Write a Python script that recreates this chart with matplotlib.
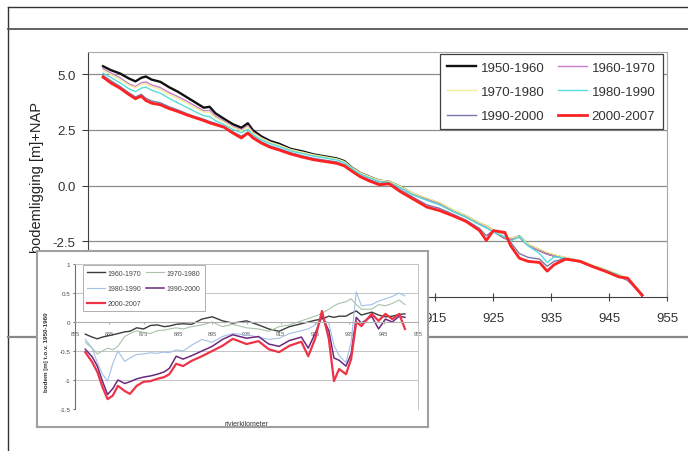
import numpy as np
import matplotlib
matplotlib.use("Agg")
import matplotlib.pyplot as plt

plt.rcParams['font.family'] = ['Liberation Sans', 'DejaVu Sans']

# Bodemligging [m +NAP] per periode langs de rivier
km = [857.6, 859, 860.5, 862, 863.2, 864.2, 865, 866, 867.5, 869, 870.5, 872, 873.5,
      875, 876, 877, 878.5, 880, 881.5, 882.6, 883.5, 885, 886.5, 888, 890, 892, 894,
      896, 898, 899.3, 900.5, 902, 903.5, 905.3, 907, 909, 911, 913.5, 915.7, 918,
      920.3, 922.6, 923.8, 925, 927, 928, 929.5, 931, 933, 934.3, 935.5, 937.5, 940,
      942, 944.5, 946.7, 948.2, 949.7, 950.7]

b_1950 = [5.36, 5.18, 5.04, 4.82, 4.68, 4.84, 4.90, 4.76, 4.66, 4.42, 4.22, 3.98, 3.74,
          3.50, 3.54, 3.25, 3.00, 2.76, 2.60, 2.80, 2.48, 2.20, 2.00, 1.88, 1.65, 1.54, 1.40,
          1.31, 1.22, 1.10, 0.82, 0.57, 0.41, 0.22, 0.18, -0.06, -0.36, -0.60, -0.80, -1.12,
          -1.38, -1.70, -1.83, -2.03, -2.35, -2.40, -2.28, -2.66, -2.90, -3.05, -3.14, -3.26, -3.40,
          -3.60, -3.84, -4.06, -4.22, -4.60, -4.92]
b_1960 = [5.25, 5.05, 4.85, 4.58, 4.45, 4.62, 4.66, 4.52, 4.40, 4.18, 4.00, 3.80, 3.58,
          3.36, 3.38, 3.12, 2.90, 2.66, 2.50, 2.70, 2.40, 2.14, 1.95, 1.83, 1.61, 1.50, 1.36,
          1.27, 1.18, 1.06, 0.80, 0.55, 0.38, 0.20, 0.16, -0.08, -0.38, -0.62, -0.82, -1.14,
          -1.40, -1.72, -1.85, -2.05, -2.36, -2.42, -2.30, -2.68, -2.92, -3.07, -3.16, -3.28, -3.42,
          -3.62, -3.86, -4.08, -4.24, -4.62, -4.93]
b_1970 = [5.18, 4.98, 4.78, 4.52, 4.40, 4.55, 4.58, 4.45, 4.32, 4.10, 3.92, 3.72, 3.50,
          3.30, 3.30, 3.06, 2.85, 2.62, 2.46, 2.64, 2.36, 2.12, 1.94, 1.82, 1.62, 1.50, 1.38,
          1.29, 1.20, 1.08, 0.82, 0.58, 0.42, 0.24, 0.20, -0.04, -0.33, -0.56, -0.76, -1.08,
          -1.34, -1.66, -1.80, -2.00, -2.30, -2.36, -2.26, -2.62, -2.86, -3.00, -3.10, -3.22, -3.36,
          -3.55, -3.76, -3.98, -4.16, -4.55, -4.90]
b_1980 = [5.05, 4.85, 4.62, 4.36, 4.22, 4.38, 4.42, 4.28, 4.15, 3.92, 3.72, 3.52, 3.32,
          3.14, 3.10, 2.92, 2.74, 2.52, 2.38, 2.52, 2.28, 2.05, 1.88, 1.76, 1.56, 1.44, 1.32,
          1.24, 1.15, 1.03, 0.78, 0.52, 0.36, 0.18, 0.14, -0.10, -0.40, -0.66, -0.86, -1.16,
          -1.42, -1.75, -1.90, -2.08, -2.30, -2.50, -2.28, -2.70, -3.05, -3.45, -3.20, -3.26, -3.38,
          -3.58, -3.80, -4.02, -4.20, -4.58, -4.92]
b_1990 = [4.95, 4.70, 4.46, 4.18, 3.98, 4.10, 3.92, 3.80, 3.72, 3.54, 3.40, 3.24, 3.10,
          2.98, 2.88, 2.80, 2.66, 2.42, 2.22, 2.40, 2.20, 1.96, 1.78, 1.66, 1.48, 1.34, 1.22,
          1.14, 1.06, 0.94, 0.70, 0.45, 0.28, 0.10, 0.12, -0.20, -0.50, -0.86, -1.02, -1.28,
          -1.55, -1.92, -2.25, -2.02, -2.15, -2.55, -3.05, -3.22, -3.30, -3.62, -3.40, -3.28, -3.40,
          -3.60, -3.85, -4.08, -4.16, -4.60, -4.92]
b_2000 = [4.87, 4.60, 4.38, 4.10, 3.90, 4.02, 3.82, 3.70, 3.63, 3.46, 3.33, 3.18, 3.05,
          2.92, 2.82, 2.74, 2.62, 2.36, 2.14, 2.36, 2.14, 1.90, 1.72, 1.60, 1.42, 1.28, 1.16,
          1.08, 1.00, 0.88, 0.66, 0.40, 0.22, 0.04, 0.08, -0.28, -0.58, -0.96, -1.12, -1.35,
          -1.61, -2.01, -2.46, -2.02, -2.10, -2.70, -3.26, -3.40, -3.45, -3.84, -3.55, -3.30, -3.40,
          -3.62, -3.86, -4.10, -4.15, -4.62, -4.92]

periodes = ['1950-1960', '1960-1970', '1970-1980', '1980-1990', '1990-2000', '2000-2007']
kleuren = ['#111111', '#cc7acc', '#eeee99', '#55dddd', '#7676aa', '#ff2222']
dikte = [1.7, 1.0, 1.0, 1.0, 1.0, 2.0]

# Inzet: verschil met 1950-1960 [m]
km_v = [858, 860, 861.5, 863, 864.5, 866, 867.5, 869.5, 871, 873, 875, 877, 879, 881,
        882.5, 884.5, 886.5, 889, 892, 895, 898, 901, 905, 908.5, 911.5, 914.5, 917.5,
        921, 923, 925, 927, 929, 930.5, 932, 934, 935.5, 937, 938.5, 941.5, 943.5, 945.5,
        947.5, 949.5, 951.2]

v_1960 = [-0.21, -0.26, -0.29, -0.26, -0.24, -0.22, -0.20, -0.17, -0.16, -0.10, -0.12, -0.06,
          -0.05, -0.08, -0.07, -0.04, -0.03, -0.04, 0.05, 0.09, 0.02, -0.02, 0.02, -0.05, -0.12,
          -0.16, -0.08, -0.03, 0.00, 0.03, 0.05, 0.10, 0.08, 0.10, 0.10, 0.15, 0.19, 0.12, 0.17,
          0.12, 0.09, 0.10, 0.13, 0.14]
v_1970 = [-0.35, -0.45, -0.55, -0.50, -0.45, -0.48, -0.42, -0.25, -0.20, -0.15, -0.18, -0.20,
          -0.15, -0.14, -0.12, -0.10, -0.12, -0.08, -0.05, 0.00, -0.08, -0.04, -0.10, -0.12, -0.16,
          -0.08, -0.05, 0.02, 0.06, 0.10, 0.15, 0.22, 0.28, 0.32, 0.35, 0.40, 0.30, 0.22, 0.22,
          0.30, 0.28, 0.32, 0.38, 0.30]
v_1980 = [-0.30, -0.45, -0.70, -0.90, -1.02, -0.72, -0.50, -0.68, -0.62, -0.56, -0.55, -0.53,
          -0.54, -0.52, -0.53, -0.48, -0.50, -0.40, -0.30, -0.35, -0.25, -0.20, -0.22, -0.26, -0.30,
          -0.28, -0.20, -0.15, -0.12, -0.05, 0.05, -0.02, -0.40, -0.58, -0.70, -0.35, 0.52, 0.28,
          0.30, 0.36, 0.40, 0.44, 0.50, 0.45]
v_1990 = [-0.47, -0.60, -0.76, -1.02, -1.25, -1.15, -1.00, -1.06, -1.03, -0.98, -0.95, -0.93,
          -0.90, -0.86, -0.80, -0.59, -0.64, -0.58, -0.50, -0.42, -0.30, -0.22, -0.28, -0.25, -0.38,
          -0.42, -0.32, -0.26, -0.45, -0.20, 0.10, -0.15, -0.62, -0.66, -0.76, -0.55, 0.08, -0.02,
          0.10, -0.12, 0.05, 0.00, 0.10, 0.08]
v_2000 = [-0.52, -0.69, -0.86, -1.12, -1.33, -1.27, -1.10, -1.19, -1.24, -1.10, -1.03, -1.02,
          -0.98, -0.95, -0.90, -0.72, -0.76, -0.67, -0.59, -0.50, -0.41, -0.29, -0.38, -0.33, -0.47,
          -0.52, -0.41, -0.34, -0.59, -0.29, 0.19, -0.29, -1.02, -0.81, -0.90, -0.64, 0.00, -0.07,
          0.14, 0.02, 0.14, 0.05, 0.14, -0.12]

periodes_v = ['1960-1970', '1970-1980', '1980-1990', '1990-2000', '2000-2007']
kleuren_v = ['#3c3c3c', '#a9c2a9', '#a4bfe6', '#6a2a7e', '#ee3348']
dikte_v = [1.0, 0.8, 0.8, 1.1, 1.6]

x_ticks = list(range(855, 956, 10))
y_ticks = [-2.5, 0.0, 2.5, 5.0]
y_ticks_v = [-1.5, -1, -0.5, 0, 0.5, 1]
y_labels_v = ['-1.5', '-1', '-0.5', '0', '0.5', '1']

W, H = 688, 452


def vak(x0, y0, x1, y1):
    # pixelrechthoek -> figuurcoordinaten
    return [x0 / W, 1 - y1 / H, (x1 - x0) / W, (y1 - y0) / H]


fig = plt.figure(figsize=(W / 100, H / 100), dpi=100)

# kader van de pagina
bg = fig.add_axes([0, 0, 1, 1], zorder=0)
bg.set_xlim(0, W)
bg.set_ylim(H, 0)
bg.axis('off')
bg.plot([8, W], [8, 8], color='#333333', lw=1.0)
bg.plot([8, 8], [8, H], color='#333333', lw=1.0)
bg.plot([8, W], [30, 30], color='#555555', lw=1.3)
bg.plot([8, W], [338, 338], color='#888888', lw=1.6)

# hoofdfiguur
ax = fig.add_axes(vak(88, 53, 667, 298), zorder=1)
series = [b_1950, b_1960, b_1970, b_1980, b_1990, b_2000]
lijnen = []
for naam, y, c, lw in zip(periodes, series, kleuren, dikte):
    l, = ax.plot(km, y, color=c, lw=lw, label=naam)
    lijnen.append(l)
ax.set_xlim(855, 955)
ax.set_ylim(-5, 6)
ax.set_xticks(x_ticks)
ax.set_yticks(y_ticks)
ax.set_yticklabels(['%.1f' % v for v in y_ticks])
ax.yaxis.grid(True, color='#8c8c8c', lw=0.9)
ax.set_axisbelow(True)
for s in ['left', 'bottom']:
    ax.spines[s].set_color('#404040')
for s in ['top', 'right']:
    ax.spines[s].set_color('#a8a8a8')
    ax.spines[s].set_linewidth(0.8)
ax.tick_params(axis='x', direction='inout', length=6, pad=8, labelsize=9.5, colors='#404040',
               labelcolor='#333333')
ax.tick_params(axis='y', direction='out', length=4, pad=5, labelsize=9.5, colors='#404040',
               labelcolor='#333333')
ax.set_ylabel('bodemligging [m]+NAP', fontsize=10.5, color='#222222')
ax.yaxis.set_label_coords(-0.076, 0.49)

volgorde = [0, 2, 4, 1, 3, 5]
leg = ax.legend([lijnen[i] for i in volgorde], [periodes[i] for i in volgorde],
                loc='upper left', bbox_to_anchor=(0.608, 0.99), borderaxespad=0,
                ncol=2, fontsize=9.5, handlelength=2.2, handletextpad=0.35,
                columnspacing=1.0, labelspacing=0.9, borderpad=0.55,
                fancybox=False, framealpha=1)
leg.get_frame().set_edgecolor('#404040')
leg.get_frame().set_linewidth(0.9)
for t in leg.get_texts():
    t.set_color('#333333')

# inzet met verschillen
kader = fig.add_axes(vak(37, 252, 428, 428), zorder=2)
kader.set_xticks([])
kader.set_yticks([])
kader.set_facecolor('white')
for s in kader.spines.values():
    s.set_color('#a0a0a0')
    s.set_linewidth(1.5)

ai = fig.add_axes(vak(75, 265, 418, 410), zorder=3)
series_v = [v_1960, v_1970, v_1980, v_1990, v_2000]
lijnen_v = []
for naam, y, c, lw in zip(periodes_v, series_v, kleuren_v, dikte_v):
    l, = ai.plot(km_v, y, color=c, lw=lw, label=naam)
    lijnen_v.append(l)
ai.set_xlim(855, 955)
ai.set_ylim(-1.5, 1)
ai.set_xticks(x_ticks)
ai.set_yticks(y_ticks_v)
ai.set_yticklabels(y_labels_v)
ai.yaxis.grid(True, color='#c4c4c4', lw=0.7)
ai.set_axisbelow(True)
ai.spines['bottom'].set_position(('data', 0))
ai.spines['bottom'].set_color('#b0b0b0')
ai.spines['left'].set_color('#707070')
for s in ['top', 'right']:
    ai.spines[s].set_color('#c4c4c4')
    ai.spines[s].set_linewidth(0.7)
ai.tick_params(axis='x', direction='out', length=1.5, pad=5, labelsize=4,
               colors='#b0b0b0', labelcolor='#555555')
ai.tick_params(axis='y', direction='out', length=1.5, pad=2, labelsize=4.5,
               colors='#707070', labelcolor='#444444')
ai.set_ylabel('bodem [m] t.o.v. 1950-1960', fontsize=4.5, fontweight='bold', color='#333333')
ai.yaxis.set_label_coords(-0.075, 0.40)
ai.set_xlabel('rivierkilometer', fontsize=5, color='#333333')
ai.xaxis.set_label_coords(0.5, -0.075)

volgorde_v = [0, 2, 4, 1, 3]
leg2 = ai.legend([lijnen_v[i] for i in volgorde_v], [periodes_v[i] for i in volgorde_v],
                 loc='upper left', bbox_to_anchor=(0.023, 0.99), borderaxespad=0,
                 ncol=2, fontsize=5, handlelength=2.6, handletextpad=0.4,
                 columnspacing=0.6, labelspacing=1.2, borderpad=0.6,
                 fancybox=False, framealpha=1)
leg2.get_frame().set_edgecolor('#b0b0b0')
leg2.get_frame().set_linewidth(0.7)
for t in leg2.get_texts():
    t.set_color('#444444')

fig.savefig('out.png', dpi=100)
